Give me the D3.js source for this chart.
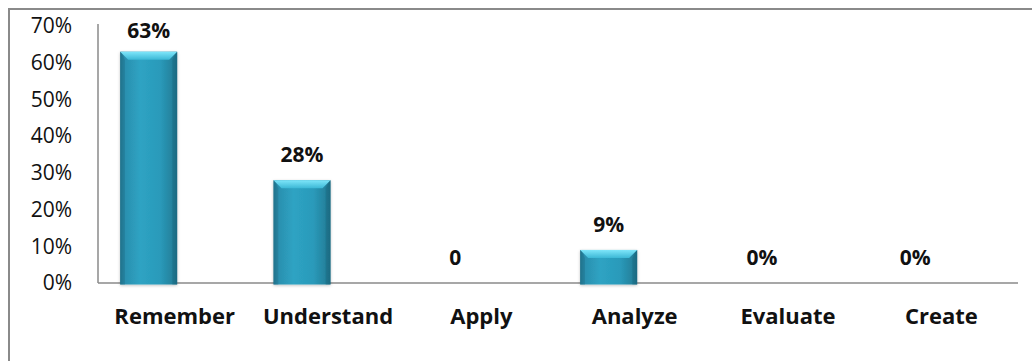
<!DOCTYPE html>
<html>
<head>
<meta charset="utf-8">
<script src="https://cdn.jsdelivr.net/npm/d3@7"></script>
<style>
  html, body { margin: 0; padding: 0; background: #fff; }
  svg { display: block; }
</style>
</head>
<body>
<svg id="chart" width="1032" height="361"></svg>
<script>
// Bloom's taxonomy levels and the share of items at each level
const categories = ["Remember", "Understand", "Apply", "Analyze", "Evaluate", "Create"];
const values = [63, 28, 0, 9, 0, 0];
const valueLabels = ["63%", "28%", "0", "9%", "0%", "0%"];
const yTicks = [0, 10, 20, 30, 40, 50, 60, 70];

const svg = d3.select("#chart");
const W = 1032, H = 361;
const plot = { left: 98, right: 1018, top: 26, bottom: 283 };
const FONT = "'Open Sans', 'Noto Sans', sans-serif";

// outer frame (right and bottom edges run past the page)
svg.append("path")
  .attr("d", `M9,${H + 5} L9,9 L${W + 5},9`)
  .attr("fill", "none").attr("stroke", "#8a8a8a").attr("stroke-width", 2);

const x = d3.scaleBand().domain(categories).range([plot.left, plot.right]);
const y = d3.scaleLinear().domain([0, 70]).range([plot.bottom, plot.top]);

// bar gradient: darker edges, bright teal centre
const defs = svg.append("defs");
const g1 = defs.append("linearGradient").attr("id", "barFill").attr("x1", 0).attr("x2", 1).attr("y1", 0).attr("y2", 0);
[[0, "#1f6f88"], [0.08, "#2b8fae"], [0.35, "#2ea3c3"], [0.7, "#2a9aba"], [0.92, "#24819c"], [1, "#1c6a82"]]
  .forEach(([o, c]) => g1.append("stop").attr("offset", o).attr("stop-color", c));
const g2 = defs.append("linearGradient").attr("id", "bevelTop").attr("x1", 0).attr("x2", 0).attr("y1", 0).attr("y2", 1);
[[0, "#7fe6fa"], [1, "#3cb8d6"]].forEach(([o, c]) => g2.append("stop").attr("offset", o).attr("stop-color", c));
const shadow = defs.append("filter").attr("id", "soft").attr("x", "-20%").attr("y", "-10%").attr("width", "140%").attr("height", "130%");
shadow.append("feDropShadow").attr("dx", 0).attr("dy", 1).attr("stdDeviation", 1.5).attr("flood-color", "#000").attr("flood-opacity", 0.25);

// y axis: labels only plus a plain vertical rule
const yAxis = d3.axisLeft(y).tickValues(yTicks).tickFormat(d => d + "%").tickSize(0).tickPadding(26);
const ya = svg.append("g").attr("transform", `translate(${plot.left},0)`).call(yAxis);
ya.select(".domain").attr("stroke", "#8a8a8a").attr("stroke-width", 1.5).attr("d", `M0,${plot.top - 2}V${plot.bottom}`);
ya.selectAll("text").attr("font-family", FONT).attr("font-size", 21).attr("fill", "#111");

// baseline
svg.append("line").attr("x1", plot.left).attr("x2", plot.right)
  .attr("y1", plot.bottom).attr("y2", plot.bottom)
  .attr("stroke", "#8a8a8a").attr("stroke-width", 1.5);

// bars sit left of the band centre (depth offset), width 57
const barW = 57, barShift = -26, bevel = 8;
const barX = c => x(c) + x.bandwidth() / 2 + barShift - barW / 2;

const bars = svg.append("g").selectAll("g").data(categories.map((c, i) => ({ c, v: values[i], t: valueLabels[i] })))
  .join("g");

bars.filter(d => d.v > 0).each(function (d) {
  const g = d3.select(this);
  const x0 = barX(d.c), y0 = y(d.v), y1 = plot.bottom + 1.5;
  g.append("rect").attr("x", x0).attr("y", y0).attr("width", barW).attr("height", y1 - y0)
    .attr("fill", "url(#barFill)").attr("filter", "url(#soft)");
  // bevelled top face
  g.append("path")
    .attr("d", `M${x0},${y0} L${x0 + barW},${y0} L${x0 + barW - bevel},${y0 + bevel} L${x0 + bevel},${y0 + bevel} Z`)
    .attr("fill", "url(#bevelTop)");
  // side bevels
  g.append("path")
    .attr("d", `M${x0},${y0} L${x0 + bevel * 0.6},${y0 + bevel} L${x0 + bevel * 0.6},${y1} L${x0},${y1} Z`)
    .attr("fill", "#1f7690").attr("opacity", 0.5);
  g.append("path")
    .attr("d", `M${x0 + barW},${y0} L${x0 + barW - bevel * 0.6},${y0 + bevel} L${x0 + barW - bevel * 0.6},${y1} L${x0 + barW},${y1} Z`)
    .attr("fill", "#1a6a82").attr("opacity", 0.5);
});

// value labels above each bar
bars.append("text")
  .attr("x", d => barX(d.c) + barW / 2)
  .attr("y", d => Math.max(y(d.v) - 26, 30))
  .attr("text-anchor", "middle").attr("dominant-baseline", "central")
  .attr("font-family", FONT).attr("font-weight", 700).attr("font-size", 21).attr("fill", "#111")
  .text(d => d.t);

// category labels
const xAxis = d3.axisBottom(x).tickSize(0).tickPadding(25);
const xa = svg.append("g").attr("transform", `translate(0,${plot.bottom})`).call(xAxis);
xa.select(".domain").remove();
xa.selectAll("text").attr("font-family", FONT).attr("font-weight", 700).attr("font-size", 22).attr("fill", "#111");
</script>
</body>
</html>
